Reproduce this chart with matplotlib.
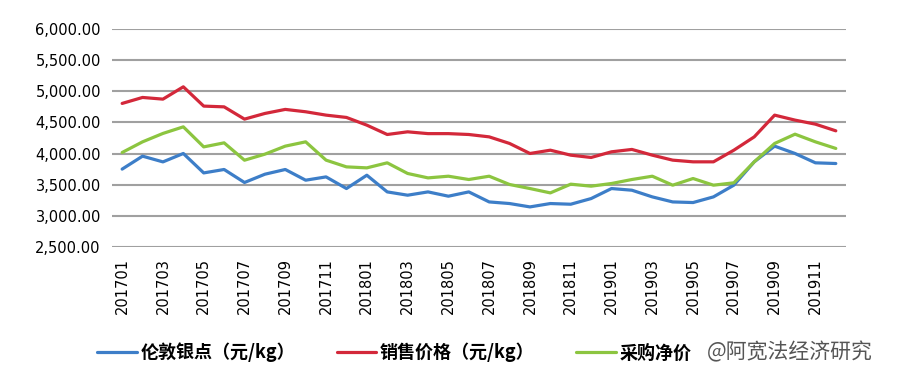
import matplotlib
matplotlib.use("Agg")
import matplotlib.pyplot as plt

plt.rcParams['font.family'] = ['DejaVu Sans', 'Noto Sans CJK SC']

# monthly data 201701 - 201912
months = [f"{y}{m:02d}" for y in (2017, 2018, 2019) for m in range(1, 13)]

london_silver = [3750, 3958, 3866, 4001, 3689, 3744, 3535, 3668, 3744, 3572,
                 3625, 3438, 3652, 3384, 3331, 3384, 3315, 3384, 3223, 3197,
                 3143, 3197, 3186, 3277, 3438, 3411, 3304, 3223, 3213, 3304,
                 3492, 3867, 4119, 4001, 3851, 3840]
sale_price = [4805, 4901, 4874, 5072, 4762, 4750, 4553, 4644, 4709, 4671,
              4617, 4580, 4456, 4306, 4349, 4320, 4320, 4306, 4268, 4162,
              4001, 4054, 3974, 3937, 4028, 4066, 3974, 3894, 3867, 3867,
              4054, 4268, 4617, 4537, 4472, 4365]
purchase_price = [4017, 4188, 4323, 4429, 4107, 4172, 3893, 3990, 4119, 4188,
                  3894, 3786, 3770, 3851, 3680, 3609, 3636, 3583, 3636, 3503,
                  3438, 3368, 3508, 3476, 3519, 3583, 3636, 3492, 3599, 3492,
                  3530, 3867, 4162, 4311, 4188, 4082]

labels = ["伦敦银点（元/kg）", "销售价格（元/kg）", "采购净价"]
colors = ['#3d7ec8', '#d3283a', '#8cc540']

fig = plt.figure(figsize=(9, 3.77), dpi=100)
ax = fig.add_axes([0.1244, 0.345, 0.8156, 0.578])

x = range(len(months))
for vals, lab, c in zip([london_silver, sale_price, purchase_price], labels, colors):
    ax.plot(x, vals, color=c, lw=2.3, label=lab, solid_capstyle='round')

ax.set_ylim(2500, 6000)
ax.set_yticks(range(2500, 6001, 500))
ax.set_yticklabels([f"{v:,.2f}" for v in range(2500, 6001, 500)], fontsize=10.5)
ax.set_xlim(-0.5, len(months) - 0.5)
ax.set_xticks(list(x)[::2])
ax.set_xticklabels(months[::2], rotation=90, fontsize=10.5)
ax.tick_params(length=0, pad=8)
ax.grid(axis='y', color='#a0a0a0', lw=1.5)
ax.set_axisbelow(True)
for s in ax.spines.values():
    s.set_visible(False)

fig.legend(loc='center left', bbox_to_anchor=(0.09, 0.065), ncol=3, frameon=False,
           handlelength=2.2, columnspacing=2.3, handletextpad=0.2,
           prop={'family': 'Noto Sans CJK SC', 'size': 13, 'weight': 'bold'})

fig.text(0.785, 0.065, "@阿宽法经济研究", ha='left', va='center', fontsize=15,
         color='#555555', family='Noto Sans CJK SC')

fig.savefig("out.png", dpi=100)
